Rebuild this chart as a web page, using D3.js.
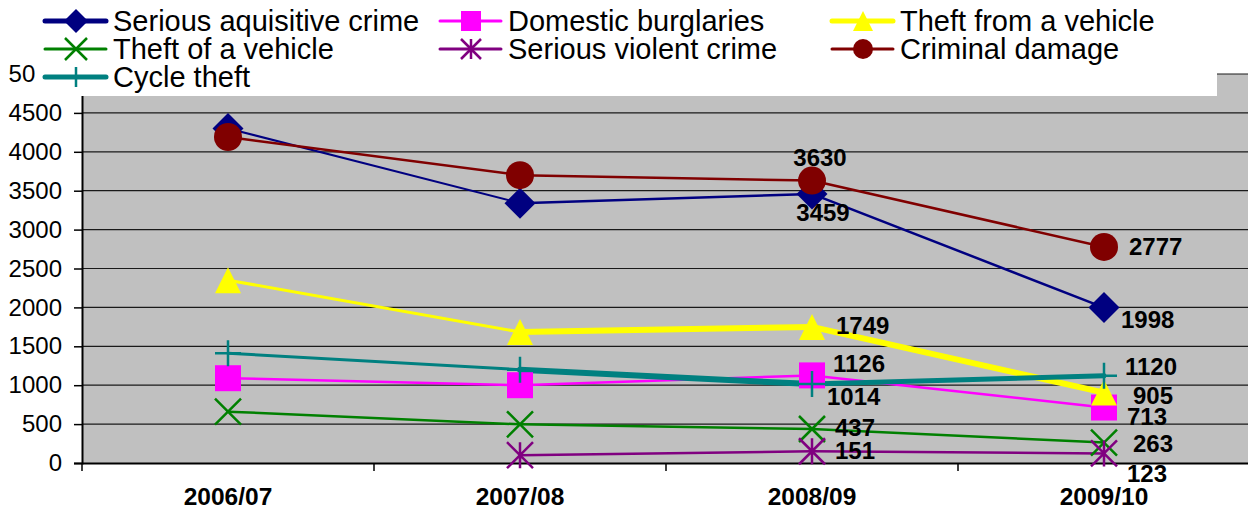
<!DOCTYPE html>
<html>
<head>
<meta charset="utf-8">
<script src="https://cdn.jsdelivr.net/npm/d3@7"></script>
<style>
  body { margin: 0; background: #fff; }
  svg { display: block; font-family: "Liberation Sans", Arial, sans-serif; }
</style>
</head>
<body>
<div id="chart"></div>
<script>
// Data
const categories = ["2006/07", "2007/08", "2008/09", "2009/10"];
const seriesNames = ["Serious aquisitive crime", "Domestic burglaries", "Theft from a vehicle",
                     "Theft of a vehicle", "Serious violent crime", "Criminal damage", "Cycle theft"];
const seriousAquisitive = [4300, 3340, 3459, 1998];
const domesticBurglaries = [1090, 1000, 1126, 713];
const theftFromVehicle = [2350, 1684, 1749, 905];
const theftOfVehicle = [660, 497, 437, 263];
const seriousViolent = [null, 100, 151, 123];
const criminalDamage = [4190, 3700, 3630, 2777];
const cycleTheft = [1410, 1200, 1014, 1120];
const yTicks = [0, 500, 1000, 1500, 2000, 2500, 3000, 3500, 4000, 4500, 5000];

const seriesValues = [seriousAquisitive, domesticBurglaries, theftFromVehicle,
                      theftOfVehicle, seriousViolent, criminalDamage, cycleTheft];

// Look of each series (colour, marker, segment widths, legend line width)
const styles = [
  {color: "#000080", shape: "diamond",  widths: [2, 2.5, 2.5], legendWidth: 5},
  {color: "#ff00ff", shape: "square",   widths: [2.5, 2.5, 2.5], legendWidth: 3},
  {color: "#ffff00", shape: "triangle", widths: [3, 6, 6], legendWidth: 5},
  {color: "#008000", shape: "x",        widths: [2.5, 2.5, 2.5], legendWidth: 3},
  {color: "#800080", shape: "star",     widths: [2.5, 2.5, 2.5], legendWidth: 3},
  {color: "#800000", shape: "circle",   widths: [2.5, 2.5, 2.5], legendWidth: 3},
  {color: "#008080", shape: "plus",     widths: [3, 6, 5], legendWidth: 5}
];

// Which points carry a value label, and where it sits relative to the point
const labelSpots = [
  {s: 5, c: 2, dx: 8,  dy: -23, anchor: "middle"},
  {s: 0, c: 2, dx: 11, dy: 19,  anchor: "middle"},
  {s: 2, c: 2, dx: 24, dy: -1,  anchor: "start"},
  {s: 1, c: 2, dx: 21, dy: -12, anchor: "start"},
  {s: 6, c: 2, dx: 15, dy: 12,  anchor: "start"},
  {s: 3, c: 2, dx: 23, dy: -1,  anchor: "start"},
  {s: 4, c: 2, dx: 23, dy: -1,  anchor: "start"},
  {s: 5, c: 3, dx: 25, dy: 0,   anchor: "start"},
  {s: 0, c: 3, dx: 17, dy: 12,  anchor: "start"},
  {s: 6, c: 3, dx: 21, dy: -9,  anchor: "start"},
  {s: 2, c: 3, dx: 29, dy: 3,   anchor: "start"},
  {s: 1, c: 3, dx: 23, dy: 9,   anchor: "start"},
  {s: 3, c: 3, dx: 29, dy: 1,   anchor: "start"},
  {s: 4, c: 3, dx: 23, dy: 20,  anchor: "start"}
];

const W = 1248, H = 510;
const plot = {left: 82, right: 1250, top: 74, bottom: 463};

const svg = d3.select("#chart").append("svg")
  .attr("width", W)
  .attr("height", H);

const x = d3.scaleBand()
  .domain(categories)
  .range([plot.left, plot.right])
  .padding(0);
const xc = c => x(c) + x.bandwidth() / 2;

const y = d3.scaleLinear()
  .domain([0, 5000])
  .range([plot.bottom, plot.top]);

// marker shapes centred on 0,0
function markerPath(shape, h) {
  switch (shape) {
    case "diamond":  return `M0,${-h}L${h},0L0,${h}L${-h},0Z`;
    case "square":   return `M${-h},${-h}H${h}V${h}H${-h}Z`;
    case "triangle": return `M0,${-h}L${h},${h}L${-h},${h}Z`;
    case "circle":   return `M${h},0A${h},${h} 0 1,1 ${-h},0A${h},${h} 0 1,1 ${h},0Z`;
    case "x":        return `M${-h},${-h}L${h},${h}M${-h},${h}L${h},${-h}`;
    case "star":     return `M${-h},${-h}L${h},${h}M${-h},${h}L${h},${-h}M0,${-h}V${h}`;
    case "plus":     return `M0,${-h}V${h}M${-h},0H${h}`;
  }
}
const filled = s => ["diamond", "square", "triangle", "circle"].includes(s);
const chartSize = {diamond: 15.5, square: 13, triangle: 13, circle: 14, x: 13, star: 13, plus: 13};
const legendSize = {diamond: 12, square: 10, triangle: 10, circle: 10, x: 11, star: 10, plus: 10};

function drawMarker(g, shape, color, h, tx, ty) {
  g.append("path")
    .attr("d", markerPath(shape, h))
    .attr("transform", `translate(${tx},${ty})`)
    .attr("fill", filled(shape) ? color : "none")
    .attr("stroke", color)
    .attr("stroke-width", filled(shape) ? 0 : 2.5);
}

// plot background
svg.append("rect")
  .attr("x", plot.left).attr("y", plot.top)
  .attr("width", plot.right - plot.left)
  .attr("height", plot.bottom - plot.top)
  .attr("fill", "#c0c0c0");

// gridlines
svg.append("g")
  .selectAll("line")
  .data(yTicks.filter(t => t > 0))
  .enter().append("line")
  .attr("x1", plot.left).attr("x2", plot.right)
  .attr("y1", d => y(d)).attr("y2", d => y(d))
  .attr("stroke", "#1a1a1a")
  .attr("stroke-width", 1.2);

// y axis
const yAxis = svg.append("g")
  .attr("transform", `translate(${plot.left},0)`)
  .call(d3.axisLeft(y).tickValues(yTicks).tickSize(8).tickPadding(12).tickFormat(d3.format("d")));
yAxis.select(".domain").attr("stroke", "#000").attr("stroke-width", 2);
yAxis.selectAll(".tick line").attr("stroke", "#000").attr("stroke-width", 1.5);
yAxis.selectAll("text")
  .attr("font-size", 24)
  .attr("font-family", "Liberation Sans, Arial, sans-serif")
  .attr("fill", "#000");

// x axis
const xAxis = svg.append("g")
  .attr("transform", `translate(0,${plot.bottom})`)
  .call(d3.axisBottom(x).tickSize(0).tickPadding(25));
xAxis.select(".domain").attr("stroke", "#000").attr("stroke-width", 2);
xAxis.selectAll("text")
  .attr("font-size", 24.5)
  .attr("font-weight", "bold")
  .attr("font-family", "Liberation Sans, Arial, sans-serif")
  .attr("fill", "#000");
// tick marks sit on the category boundaries
xAxis.selectAll(".bound")
  .data(d3.range(categories.length + 1))
  .enter().append("line")
  .attr("x1", i => plot.left + i * x.bandwidth())
  .attr("x2", i => plot.left + i * x.bandwidth())
  .attr("y1", 0).attr("y2", 8)
  .attr("stroke", "#000").attr("stroke-width", 1.5);

// series lines, one segment at a time so each can have its own width
const linesG = svg.append("g");
seriesValues.forEach((vals, si) => {
  const st = styles[si];
  for (let i = 0; i < vals.length - 1; i++) {
    if (vals[i] == null || vals[i + 1] == null) continue;
    linesG.append("line")
      .attr("x1", xc(categories[i])).attr("y1", y(vals[i]))
      .attr("x2", xc(categories[i + 1])).attr("y2", y(vals[i + 1]))
      .attr("stroke", st.color)
      .attr("stroke-width", st.widths[i])
      .attr("stroke-linecap", "round");
  }
});

// markers
const markG = svg.append("g");
seriesValues.forEach((vals, si) => {
  const st = styles[si];
  vals.forEach((v, i) => {
    if (v == null) return;
    drawMarker(markG, st.shape, st.color, chartSize[st.shape], xc(categories[i]), y(v));
  });
});

// value labels
svg.append("g")
  .selectAll("text")
  .data(labelSpots)
  .enter().append("text")
  .attr("x", d => xc(categories[d.c]) + d.dx)
  .attr("y", d => y(seriesValues[d.s][d.c]) + d.dy)
  .attr("dy", "0.35em")
  .attr("text-anchor", d => d.anchor)
  .attr("font-size", 24)
  .attr("font-weight", "bold")
  .attr("fill", "#000")
  .text(d => seriesValues[d.s][d.c]);

// legend box (covers the top of the plot, as in the original)
const legend = svg.append("g");
legend.append("rect")
  .attr("x", 35).attr("y", 0)
  .attr("width", 1217 - 35).attr("height", 96)
  .attr("fill", "#fff");

const legendCols = [45, 440, 832];
const legendRows = [21, 49, 77];
seriesNames.forEach((name, i) => {
  const st = styles[i];
  const lx = legendCols[i % 3], ly = legendRows[Math.floor(i / 3)];
  const item = legend.append("g");
  item.append("line")
    .attr("x1", lx).attr("x2", lx + 61)
    .attr("y1", ly).attr("y2", ly)
    .attr("stroke", st.color)
    .attr("stroke-width", st.legendWidth)
    .attr("stroke-linecap", "round");
  drawMarker(item, st.shape, st.color, legendSize[st.shape], lx + 31, ly);
  item.append("text")
    .attr("x", lx + 68)
    .attr("y", ly)
    .attr("dy", "0.35em")
    .attr("font-size", 29)
    .attr("fill", "#000")
    .text(name);
});
</script>
</body>
</html>
